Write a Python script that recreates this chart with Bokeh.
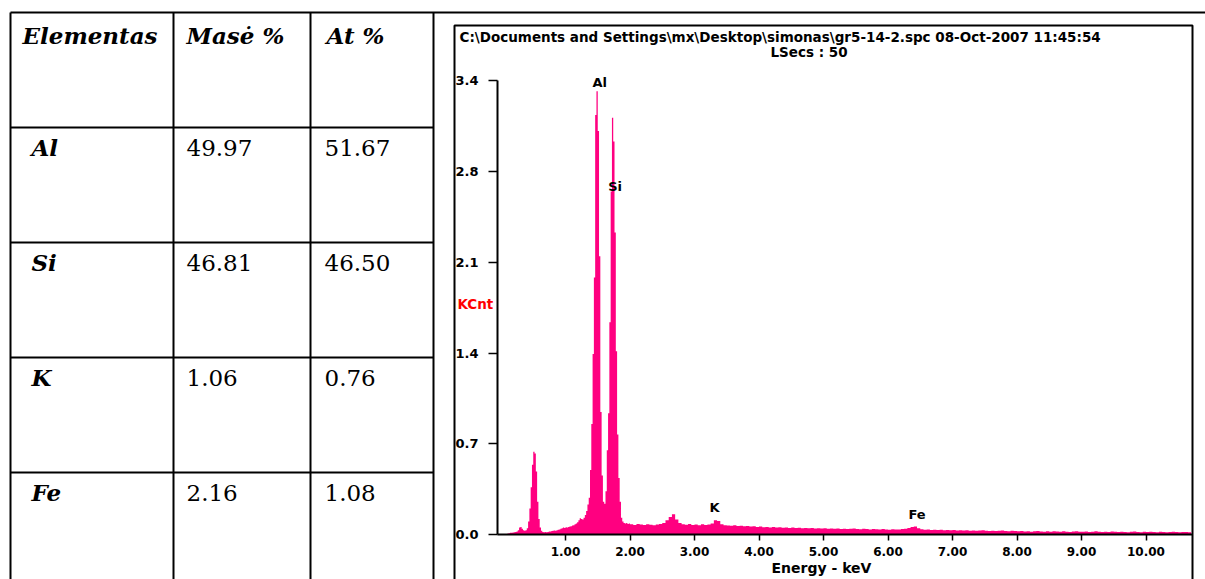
import numpy as np
from bokeh.plotting import figure
from bokeh.models import Range1d, LinearAxis, FixedTicker
from bokeh.core.properties import value
from bokeh.embed import file_html
from bokeh.resources import INLINE

# ---------------- table data ----------------
table_headers = ["Elementas", "Masė %", "At %"]
elements = ["Al", "Si", "K", "Fe"]
mass_pct = [49.97, 46.81, 1.06, 2.16]
atom_pct = [51.67, 46.50, 0.76, 1.08]

# ---------------- spectrum data ----------------
spec_title = "C:\\Documents and Settings\\mx\\Desktop\\simonas\\gr5-14-2.spc  08-Oct-2007 11:45:54"
spec_subtitle = "LSecs : 50"
y_label = "KCnt"
x_label = "Energy - keV"

lo_start_kev = 0.10
lo_step_kev = 0.02
lo_counts = [
    0.010, 0.012, 0.015, 0.015, 0.018, 0.020, 0.022, 0.025, 0.035, 0.055,
    0.060, 0.045, 0.035, 0.030, 0.035, 0.050, 0.100, 0.200, 0.360, 0.530,
    0.630, 0.615, 0.480, 0.250, 0.120, 0.055, 0.030, 0.022, 0.020, 0.022,
    0.020, 0.022, 0.025, 0.025, 0.028, 0.030, 0.032, 0.030, 0.035, 0.038,
    0.040, 0.045, 0.050, 0.055, 0.052, 0.058, 0.055, 0.060, 0.062, 0.065,
    0.070, 0.072, 0.080, 0.085, 0.095, 0.110, 0.125, 0.120, 0.115, 0.130,
    0.150, 0.180, 0.230, 0.280, 0.490, 0.840, 1.370, 1.950, 3.180, 3.360,
    3.060, 2.110, 0.930, 0.450, 0.250, 0.235, 0.330, 0.640, 0.920, 1.610,
    2.600, 3.160, 2.980, 2.290, 1.390, 0.760, 0.430, 0.250, 0.130, 0.100,
    0.090, 0.085, 0.090, 0.082, 0.085,
]
hi_start_kev = 2.00
hi_step_kev = 0.05
hi_counts = [
    0.080, 0.075, 0.082, 0.078, 0.074, 0.080, 0.076, 0.072, 0.078, 0.082,
    0.090, 0.110, 0.135, 0.155, 0.115, 0.090,
    0.080, 0.076, 0.082, 0.074, 0.078, 0.072, 0.080, 0.075, 0.078,
    0.085, 0.110, 0.105, 0.080,
    0.072, 0.070, 0.068, 0.072, 0.066, 0.068, 0.064, 0.067, 0.062, 0.065, 0.060, 0.063,
    0.058, 0.060, 0.056, 0.059, 0.055, 0.057, 0.054, 0.056, 0.052, 0.055,
    0.051, 0.053, 0.050, 0.052, 0.049, 0.051, 0.048, 0.050, 0.047, 0.049,
    0.046, 0.048, 0.045, 0.047, 0.044, 0.046, 0.043, 0.045, 0.047, 0.044,
    0.042, 0.045, 0.043, 0.041, 0.044, 0.042, 0.040, 0.043, 0.041, 0.039,
    0.042, 0.040, 0.041, 0.043,
    0.045, 0.052, 0.060, 0.062, 0.050, 0.042, 0.038,
    0.040, 0.037, 0.039, 0.036, 0.038, 0.035, 0.037, 0.034, 0.036, 0.033,
    0.035, 0.032, 0.034, 0.031, 0.033, 0.030, 0.032, 0.034, 0.030, 0.029,
    0.031, 0.028, 0.030, 0.032, 0.029, 0.027, 0.030, 0.028, 0.026,
    0.028, 0.025, 0.027, 0.024, 0.026, 0.028, 0.025, 0.023, 0.026, 0.024,
    0.027, 0.025, 0.023, 0.026, 0.024, 0.022, 0.025, 0.027, 0.024, 0.023,
    0.025, 0.022, 0.024, 0.026, 0.023, 0.021, 0.024, 0.022, 0.025, 0.023,
    0.021, 0.024, 0.022, 0.020, 0.023, 0.025, 0.022, 0.020, 0.023, 0.021,
    0.024, 0.022, 0.020, 0.023, 0.021, 0.019, 0.022, 0.024, 0.021, 0.020,
    0.022, 0.021, 0.020,
]
peak_labels = ["Al", "Si", "K", "Fe"]
peak_label_kev = [1.53, 1.77, 3.31, 6.45]
peak_label_kcnt = [3.43, 2.64, 0.207, 0.155]

x_ticks = [1, 2, 3, 4, 5, 6, 7, 8, 9, 10]
x_tick_labels = ["1.00", "2.00", "3.00", "4.00", "5.00", "6.00", "7.00", "8.00", "9.00", "10.00"]
y_ticks = [0.0, 0.688, 1.376, 2.064, 2.752, 3.44]
y_tick_labels = ["0.0", "0.7", "1.4", "2.1", "2.8", "3.4"]

# ---------------- layout constants (pixels) ----------------
W, H = 1205, 579
X0_PX, PX_PER_KEV = 500.5, 64.5      # where 0 keV sits, scale
Y0_PX, PX_PER_KCNT = 534.3, 132.0    # where 0 KCnt sits, scale
YAXIS_PX = 497.0
BOX_L, BOX_R, BOX_T = 454, 1192, 25

SPEC_COLOR = "#ff0080"
SANS = value("DejaVu Sans")
SERIF = value("DejaVu Serif")

p = figure(width=W, height=H, x_range=Range1d(0, W), y_range=Range1d(H, 0),
           output_backend="svg", toolbar_location=None,
           x_axis_type=None, y_axis_type=None, min_border=0)
p.outline_line_color = None
p.background_fill_color = "white"
p.border_fill_color = "white"

p.extra_x_ranges = {"kev": Range1d(-X0_PX / PX_PER_KEV, (W - X0_PX) / PX_PER_KEV)}
p.extra_y_ranges = {"kcnt": Range1d(-(H - Y0_PX) / PX_PER_KCNT, Y0_PX / PX_PER_KCNT)}

# ---------------- table ----------------
col_x = [10, 173, 310, 433]
row_y = [12, 127, 242, 357, 472]
x0s, y0s, x1s, y1s = [], [], [], []
for cx in col_x:
    x0s.append(cx); y0s.append(12); x1s.append(cx); y1s.append(H + 10)
x0s.append(10); y0s.append(12); x1s.append(W + 5); y1s.append(12)
for ry in row_y[1:]:
    x0s.append(10); y0s.append(ry); x1s.append(433); y1s.append(ry)
p.segment(x0=x0s, y0=y0s, x1=x1s, y1=y1s, line_color="black", line_width=2)

text_cols = [22, 186, 326]
p.text(x=text_cols, y=[34.5] * 3, text=table_headers, text_font=SERIF,
       text_font_style="bold italic", text_font_size="23px",
       text_baseline="middle", text_align="left", text_color="black")
mid_y = [ry + 20 for ry in row_y[1:]]
p.text(x=[31] * len(elements), y=mid_y, text=elements, text_font=SERIF,
       text_font_style="bold italic", text_font_size="23px",
       text_baseline="middle", text_align="left", text_color="black")
p.text(x=[186] * len(mass_pct), y=mid_y, text=[f"{v:.2f}" for v in mass_pct],
       text_font=SERIF, text_font_size="23px", text_baseline="middle",
       text_align="left", text_color="black")
p.text(x=[324] * len(atom_pct), y=mid_y, text=[f"{v:.2f}" for v in atom_pct],
       text_font=SERIF, text_font_size="23px", text_baseline="middle",
       text_align="left", text_color="black")

# ---------------- spectrum box + titles ----------------
p.quad(left=[BOX_L], right=[BOX_R], top=[BOX_T], bottom=[H + 10],
       fill_color=None, line_color="black", line_width=2)
p.text(x=[459], y=[36.2], text=[spec_title], text_font=SANS, text_font_style="bold",
       text_font_size="13.5px", text_baseline="middle", text_color="black")
p.text(x=[770], y=[51.5], text=[spec_subtitle], text_font=SANS, text_font_style="bold",
       text_font_size="13.5px", text_baseline="middle", text_color="black")
p.text(x=[457], y=[303.3], text=[y_label], text_font=SANS, text_font_style="bold",
       text_font_size="13.5px", text_baseline="middle", text_color="#ff0000")
p.text(x=[821], y=[567.5], text=[x_label], text_font=SANS, text_font_style="bold",
       text_font_size="14px", text_baseline="middle", text_align="center",
       text_color="black")

# ---------------- spectrum (step fill) ----------------
lo_edges = lo_start_kev + lo_step_kev * np.arange(len(lo_counts) + 1)
hi_edges = hi_start_kev + hi_step_kev * np.arange(len(hi_counts) + 1)
xs, ys = [lo_edges[0]], [0.0]
for edges, counts in ((lo_edges, lo_counts), (hi_edges, hi_counts)):
    for i, c in enumerate(counts):
        xs += [edges[i], edges[i + 1]]
        ys += [c, c]
xs.append(hi_edges[-1]); ys.append(0.0)
p.patch(x=xs, y=ys, fill_color=SPEC_COLOR, line_color=None,
        x_range_name="kev", y_range_name="kcnt")

p.text(x=peak_label_kev, y=peak_label_kcnt, text=peak_labels, text_font=SANS,
       text_font_style="bold", text_font_size="13px", text_align="center",
       text_baseline="middle", text_color="black",
       x_range_name="kev", y_range_name="kcnt")

# ---------------- axes ----------------
yaxis_kev = (YAXIS_PX - X0_PX) / PX_PER_KEV
right_kev = (BOX_R - X0_PX) / PX_PER_KEV

xax = LinearAxis(x_range_name="kev", y_range_name="kcnt", fixed_location=0,
                 bounds=(yaxis_kev, right_kev), ticker=FixedTicker(ticks=x_ticks),
                 major_label_overrides=dict(zip(x_ticks, x_tick_labels)))
xax.axis_line_width = 2
xax.major_tick_out = 6
xax.major_tick_in = 0
xax.major_tick_line_width = 1.5
xax.minor_tick_line_color = None
xax.major_label_standoff = 6
xax.major_label_text_font = "DejaVu Sans"
xax.major_label_text_font_style = "bold"
xax.major_label_text_font_size = "12px"
xax.major_label_text_color = "black"
p.add_layout(xax, "below")

yax = LinearAxis(x_range_name="kev", y_range_name="kcnt", fixed_location=yaxis_kev,
                 bounds=(0, y_ticks[-1]), ticker=FixedTicker(ticks=y_ticks),
                 major_label_overrides=dict(zip(y_ticks, y_tick_labels)))
yax.axis_line_width = 2
yax.major_tick_out = 9
yax.major_tick_in = 0
yax.major_tick_line_width = 1.5
yax.minor_tick_line_color = None
yax.major_label_standoff = 10
yax.major_label_text_font = "DejaVu Sans"
yax.major_label_text_font_style = "bold"
yax.major_label_text_font_size = "13px"
yax.major_label_text_color = "black"
p.add_layout(yax, "left")

open("out.html", "w").write(file_html(p, INLINE))
